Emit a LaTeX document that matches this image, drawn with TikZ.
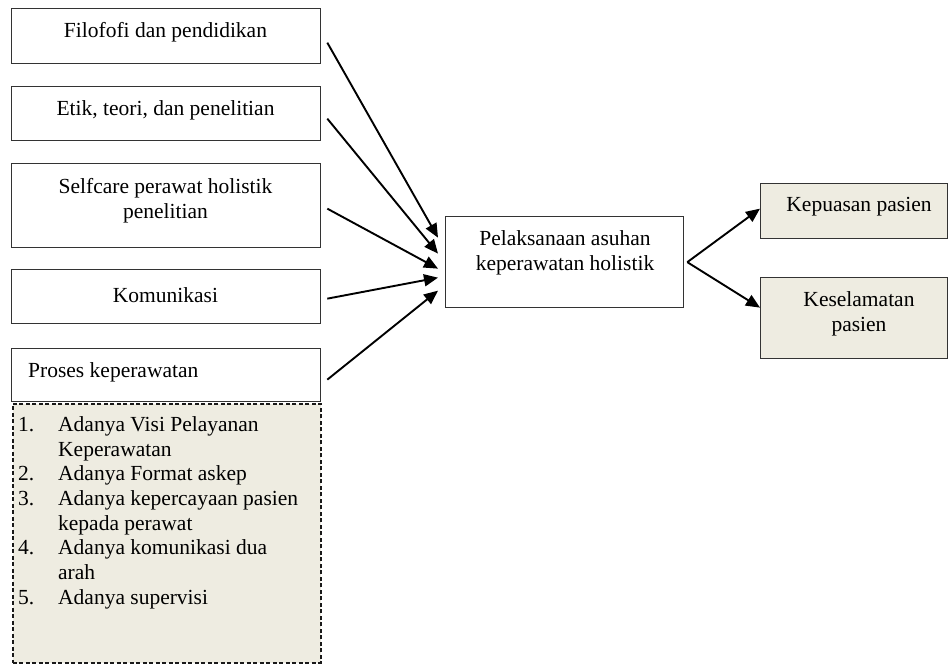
\documentclass[tikz,border=0pt]{standalone}
\usepackage{fontspec}
\setmainfont{Liberation Serif}
\usetikzlibrary{arrows.meta,calc}
\definecolor{beige}{HTML}{EEECE1}
\begin{document}
\begin{tikzpicture}[x=1pt,y=-1pt,
  box/.style={draw=black!80, line width=1.3pt, inner sep=0pt, anchor=north west},
  txt/.style={font=\fontsize{21.5}{24.7}\selectfont, align=center, inner sep=0pt, text=black},
  arr/.style={line width=1.9pt, -{Triangle[length=14pt,width=12pt]}}]
\useasboundingbox (0,0) rectangle (948,664);
% left boxes
\node[box, minimum width=309pt, minimum height=55pt] (b1) at (11,8) {};
\node[box, minimum width=309pt, minimum height=54pt] (b2) at (11,86) {};
\node[box, minimum width=309pt, minimum height=84pt] (b3) at (11,163) {};
\node[box, minimum width=309pt, minimum height=54pt] (b4) at (11,269) {};
\node[box, draw=black!90, line width=1.5pt, dash pattern=on 4pt off 2.5pt, fill=beige, minimum width=308pt, minimum height=259pt] (list) at (12,403) {};
\node[box, minimum width=309pt, minimum height=53pt] (b5) at (11,348) {};
% center and right boxes
\node[box, minimum width=238pt, minimum height=91pt] (c) at (445,216) {};
\node[box, fill=beige, minimum width=187pt, minimum height=55pt] (kp) at (760,183) {};
\node[box, fill=beige, minimum width=187pt, minimum height=81pt] (ks) at (760,277) {};
% texts
\node[txt] (t1) at (165.5,32) {Filofofi dan pendidikan};
\node[txt] (t2) at (165.5,110) {Etik, teori, dan penelitian};
\node[txt] (t3) at (165.5,201) {Selfcare perawat holistik\\penelitian};
\node[txt] (t4) at (165.5,295) {Komunikasi};
\node[txt, anchor=west] (t5) at (28,372) {Proses keperawatan};
\node[txt, anchor=north west, align=left] (tl) at (18,414) {%
\begin{tabular}{@{}p{40pt}@{}l@{}}
1. & Adanya Visi Pelayanan\\
   & Keperawatan\\
2. & Adanya Format askep\\
3. & Adanya kepercayaan pasien\\
   & kepada perawat\\
4. & Adanya komunikasi dua\\
   & arah\\
5. & Adanya supervisi
\end{tabular}};
\node[txt] (tc) at (565,253) {Pelaksanaan asuhan\\keperawatan holistik};
\node[txt] (tkp) at (859,207) {Kepuasan pasien};
\node[txt] (tks) at (859,314) {Keselamatan\\pasien};
% arrows
\draw[arr] ($(b1.east)+(6,6.5)$) -- ($(c.west)+(-7,-24.5)$);
\draw[arr] ($(b2.east)+(6,5)$) -- ($(c.west)+(-7,-8.5)$);
\draw[arr] ($(b3.east)+(6,3)$) -- ($(c.west)+(-7,6.5)$);
\draw[arr] ($(b4.east)+(6,2)$) -- ($(c.west)+(-7,15.5)$);
\draw[arr] ($(b5.east)+(6,4.5)$) -- ($(c.west)+(-7,28.5)$);
\draw[arr] ($(c.east)+(3,0)$) -- ($(kp.west)+(0,-2.5)$);
\draw[arr] ($(c.east)+(3,0)$) -- ($(ks.west)+(0,-10.5)$);
\end{tikzpicture}
\end{document}
